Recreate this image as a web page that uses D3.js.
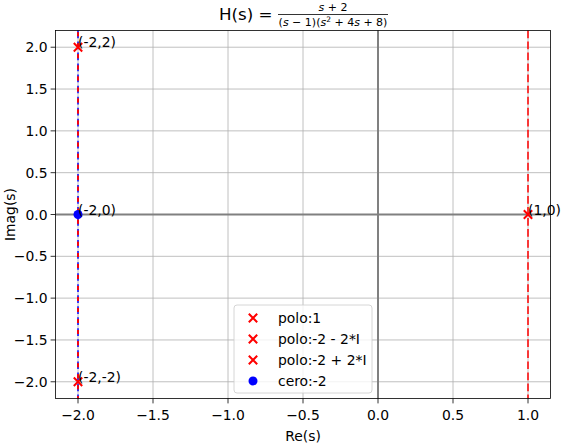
<!DOCTYPE html>
<html>
<head>
<meta charset="utf-8">
<script src="https://cdn.jsdelivr.net/npm/d3@7"></script>
<style>
  body { margin: 0; background: #fff; }
  svg { font-family: "DejaVu Sans", sans-serif; }
</style>
</head>
<body>
<div id="chart"></div>
<script>
// polos y ceros de H(s)
var poleRe = [1, -2, -2];
var poleIm = [0, -2, 2];
var poleLabels = ["polo:1", "polo:-2 - 2*I", "polo:-2 + 2*I"];
var zeroRe = [-2];
var zeroIm = [0];
var zeroLabels = ["cero:-2"];
var xTicks = [-2.0, -1.5, -1.0, -0.5, 0.0, 0.5, 1.0];
var yTicks = [-2.0, -1.5, -1.0, -0.5, 0.0, 0.5, 1.0, 1.5, 2.0];
var xDomain = [-2.15, 1.15];
var yDomain = [-2.2, 2.2];

var width = 565, height = 446;
var m = {left: 55.5, right: 14.5, top: 30.5, bottom: 47.5};
var iw = width - m.left - m.right, ih = height - m.top - m.bottom;

var svg = d3.select("#chart").append("svg")
    .attr("width", width)
    .attr("height", height);

var x = d3.scaleLinear().domain(xDomain).range([0, iw]);
var y = d3.scaleLinear().domain(yDomain).range([ih, 0]);

var g = svg.append("g").attr("transform", "translate(" + m.left + "," + m.top + ")");

var fmt = function (d) { return d3.format(".1f")(d).replace("-", "\u2212"); };

// grid
g.append("g").selectAll("line").data(xTicks).enter().append("line")
    .attr("x1", d => x(d)).attr("x2", d => x(d))
    .attr("y1", 0).attr("y2", ih)
    .attr("stroke", "#b0b0b0").attr("stroke-width", 0.8);
g.append("g").selectAll("line").data(yTicks).enter().append("line")
    .attr("y1", d => y(d)).attr("y2", d => y(d))
    .attr("x1", 0).attr("x2", iw)
    .attr("stroke", "#b0b0b0").attr("stroke-width", 0.8);

// ejes en cero
g.append("line").attr("x1", 0).attr("x2", iw).attr("y1", y(0)).attr("y2", y(0))
    .attr("stroke", "gray").attr("stroke-width", 2);
g.append("line").attr("x1", x(0)).attr("x2", x(0)).attr("y1", 0).attr("y2", ih)
    .attr("stroke", "gray").attr("stroke-width", 2);

// lineas verticales por parte real
zeroRe.forEach(function (re) {
    g.append("line").attr("x1", x(re)).attr("x2", x(re)).attr("y1", 0).attr("y2", ih)
        .attr("stroke", "blue").attr("stroke-width", 1.5)
        .attr("stroke-dasharray", "7.7,3.33");
});
poleRe.forEach(function (re) {
    var onZero = zeroRe.indexOf(re) >= 0;
    g.append("line").attr("x1", x(re)).attr("x2", x(re)).attr("y1", 0).attr("y2", ih)
        .attr("stroke", "red").attr("stroke-width", 1.5)
        .attr("stroke-dasharray", onZero ? "4,7.03" : "7.7,3.33")
        .attr("stroke-dashoffset", onZero ? -1.8 : 0);
});

// marcadores
function cross(sel, px, py) {
    var r = 4.2;
    sel.append("path")
        .attr("d", "M" + (px - r) + "," + (py - r) + "L" + (px + r) + "," + (py + r) +
                   "M" + (px - r) + "," + (py + r) + "L" + (px + r) + "," + (py - r))
        .attr("stroke", "red").attr("stroke-width", 2).attr("fill", "none");
}
poleRe.forEach(function (re, i) { cross(g, x(re), y(poleIm[i])); });
zeroRe.forEach(function (re, i) {
    g.append("circle").attr("cx", x(re)).attr("cy", y(zeroIm[i])).attr("r", 4.5).attr("fill", "blue");
});

// anotaciones
poleRe.forEach(function (re, i) {
    g.append("text").attr("x", x(re)).attr("y", y(poleIm[i]))
        .attr("font-size", 13.9).text("(" + re + "," + poleIm[i] + ")");
});
zeroRe.forEach(function (re, i) {
    g.append("text").attr("x", x(re)).attr("y", y(zeroIm[i]))
        .attr("font-size", 13.9).text("(" + re + "," + zeroIm[i] + ")");
});

// marco
g.append("rect").attr("width", iw).attr("height", ih)
    .attr("fill", "none").attr("stroke", "black").attr("stroke-width", 0.8);

// ticks
var xt = g.append("g").selectAll("g").data(xTicks).enter().append("g")
    .attr("transform", d => "translate(" + x(d) + "," + ih + ")");
xt.append("line").attr("y2", 4.9).attr("stroke", "black").attr("stroke-width", 0.8);
xt.append("text").attr("y", 21.5).attr("text-anchor", "middle").attr("font-size", 13.9).text(fmt);

var yt = g.append("g").selectAll("g").data(yTicks).enter().append("g")
    .attr("transform", d => "translate(0," + y(d) + ")");
yt.append("line").attr("x2", -4.9).attr("stroke", "black").attr("stroke-width", 0.8);
yt.append("text").attr("x", -8).attr("dy", "0.36em").attr("text-anchor", "end").attr("font-size", 13.9).text(fmt);

svg.append("text").attr("x", m.left + iw / 2).attr("y", 441).attr("text-anchor", "middle")
    .attr("font-size", 13.9).text("Re(s)");
svg.append("text").attr("transform", "translate(15," + (m.top + ih / 2) + ") rotate(-90)")
    .attr("text-anchor", "middle").attr("font-size", 13.9).text("Imag(s)");

// titulo
var title = svg.append("g");
title.append("text").attr("x", 219).attr("y", 20).attr("font-size", 16.7).text("H(s) =");
var nt = title.append("text").attr("x", 333).attr("y", 11).attr("text-anchor", "middle").attr("font-size", 11);
nt.append("tspan").attr("font-style", "italic").text("s");
nt.append("tspan").text(" + 2");
title.append("line").attr("x1", 278).attr("x2", 388).attr("y1", 14.5).attr("y2", 14.5)
    .attr("stroke", "black").attr("stroke-width", 0.8);
var dt = title.append("text").attr("x", 333).attr("y", 26).attr("text-anchor", "middle").attr("font-size", 11);
dt.append("tspan").text("(");
dt.append("tspan").attr("font-style", "italic").text("s");
dt.append("tspan").text(" \u2212 1)(");
dt.append("tspan").attr("font-style", "italic").text("s");
dt.append("tspan").attr("font-size", 7.5).attr("dy", -4).text("2");
dt.append("tspan").attr("dy", 4).text(" + 4");
dt.append("tspan").attr("font-style", "italic").text("s");
dt.append("tspan").text(" + 8)");

// leyenda
var lx = 234 - m.left, ly = 305 - m.top, lw = 138, lh = 88;
g.append("rect").attr("x", lx).attr("y", ly).attr("width", lw).attr("height", lh)
    .attr("rx", 3).attr("fill", "white").attr("fill-opacity", 0.8)
    .attr("stroke", "#cccccc").attr("stroke-width", 0.8);
var entries = poleLabels.map(function (l) { return {label: l, type: "x"}; })
    .concat(zeroLabels.map(function (l) { return {label: l, type: "o"}; }));
entries.forEach(function (e, i) {
    var cy = ly + 13 + i * 21;
    if (e.type === "x") cross(g, lx + 19, cy);
    else g.append("circle").attr("cx", lx + 19).attr("cy", cy).attr("r", 4.5).attr("fill", "blue");
    g.append("text").attr("x", lx + 44).attr("y", cy).attr("dy", "0.36em")
        .attr("font-size", 13.9).text(e.label);
});
</script>
</body>
</html>
